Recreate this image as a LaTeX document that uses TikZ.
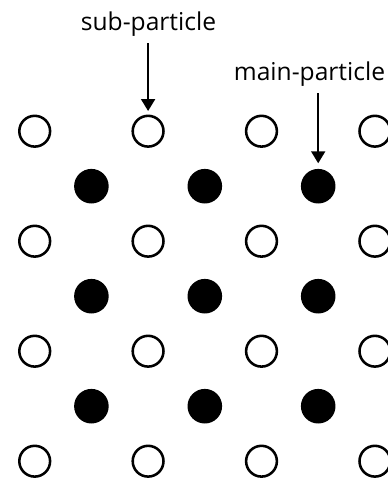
\documentclass[tikz,border=0pt]{standalone}
\usepackage{fontspec}
\setmainfont{Open Sans}
\usetikzlibrary{arrows.meta,positioning}

\begin{document}
\begin{tikzpicture}[
    x=0.02cm, y=-0.02cm,
    hole/.style={circle, draw, line width=1.45pt, minimum size=0.616cm, inner sep=0pt},
    dot/.style={circle, fill=black, minimum size=0.692cm, inner sep=0pt},
    txt/.style={font=\fontsize{14}{16}\selectfont, inner sep=0.13cm},
    arrow/.style={-{Triangle[width=0.28cm,length=0.24cm]}, line width=1.1pt}
]
    \useasboundingbox (0,0) rectangle (388,481);
    % open sites
    \foreach \i in {0,...,3}
        \foreach \j in {0,...,3}
            \node[hole] (h\i\j) at (34.7+113.4*\j, 131.2+110*\i) {};
    % filled sites
    \foreach \i in {0,...,2}
        \foreach \j in {0,...,2}
            \node[dot] (d\i\j) at (91.4+113.4*\j, 186.2+110*\i) {};
    \node[txt, anchor=base] (sub) at (148.5, 30.7) {sub-particle};
    \node[txt, anchor=base] (main) at (309.5, 80.7) {main-particle};
    \draw[arrow, shorten >=2pt] (sub.south -| h01) -- (h01);
    \draw[arrow, shorten >=3pt] (main.south -| d02) -- (d02);
\end{tikzpicture}
\end{document}
